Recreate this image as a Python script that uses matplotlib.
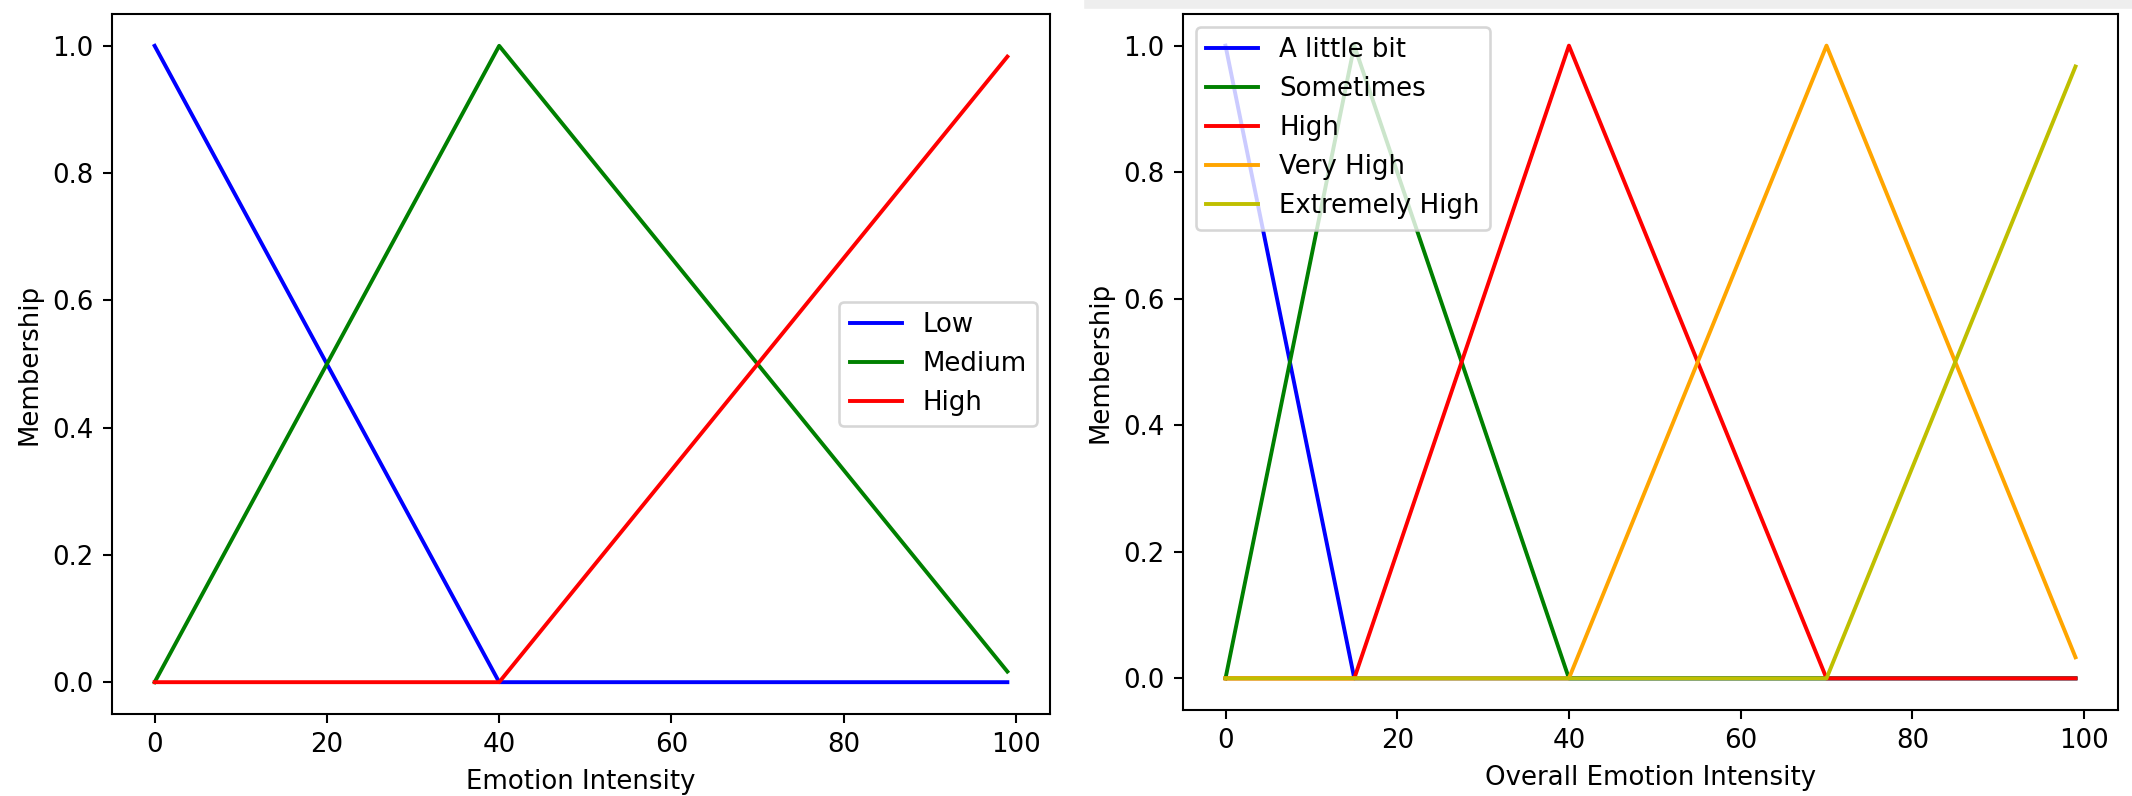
import matplotlib.pyplot as plt
from matplotlib.patches import Rectangle

# breakpoints of the triangular membership functions (x from 0 to 99)
left_labels = ["Low", "Medium", "High"]
left_colors = ["b", "g", "r"]
left_x = [[0, 40, 99], [0, 40, 99], [0, 40, 99]]
left_y = [[1.0, 0.0, 0.0], [0.0, 1.0, 0.0167], [0.0, 0.0, 0.983]]

right_labels = ["A little bit", "Sometimes", "High", "Very High", "Extremely High"]
right_colors = ["b", "g", "r", "orange", "y"]
right_x = [
    [0, 15, 99],
    [0, 15, 40, 99],
    [0, 15, 40, 70, 99],
    [0, 40, 70, 99],
    [0, 70, 99],
]
right_y = [
    [1.0, 0.0, 0.0],
    [0.0, 1.0, 0.0, 0.0],
    [0.0, 0.0, 1.0, 0.0, 0.0],
    [0.0, 0.0, 1.0, 0.0333],
    [0.0, 0.0, 0.967],
]

dpi = 187
fig = plt.figure(figsize=(2132 / dpi, 796 / dpi), dpi=dpi)

# light strip at the top of the right screenshot
fig.patches.append(Rectangle((1085 / 2132, 1 - 7 / 796), 1 - 1085 / 2132, 7 / 796,
                             transform=fig.transFigure, color="#eeeeee", zorder=0))

ax1 = fig.add_axes([112 / 2132, 82 / 796, 938 / 2132, 700 / 796])
for xs, ys, lab, c in zip(left_x, left_y, left_labels, left_colors):
    ax1.plot(xs, ys, color=c, label=lab)
ax1.set_xlabel("Emotion Intensity")
ax1.set_ylabel("Membership")
ax1.legend(loc="center right")

ax2 = fig.add_axes([1183 / 2132, 86 / 796, 935 / 2132, 696 / 796])
for xs, ys, lab, c in zip(right_x, right_y, right_labels, right_colors):
    ax2.plot(xs, ys, color=c, label=lab)
ax2.set_xlabel("Overall Emotion Intensity")
ax2.set_ylabel("Membership")
ax2.legend(loc="upper left")

plt.savefig("out.png", dpi=dpi)
